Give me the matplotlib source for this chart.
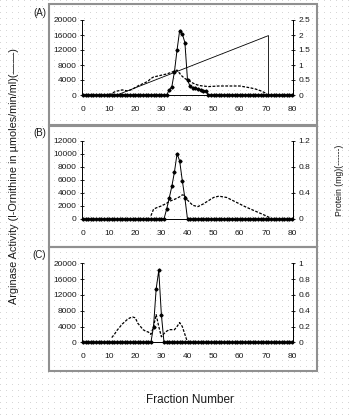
import numpy as np
import matplotlib
matplotlib.use("Agg")
import matplotlib.pyplot as plt
from matplotlib.patches import Rectangle
from matplotlib.ticker import FormatStrFormatter

plt.rcParams['font.family'] = ['Liberation Sans', 'DejaVu Sans']

# ---------------- data ----------------
fractions = np.arange(0, 81)
x_ticks = [0, 10, 20, 30, 40, 50, 60, 70, 80]

# Panel A
act_A_start = 33
act_A_peak = [1300, 2200, 6200, 12000, 17200, 16300, 14000, 4000, 2300,
              2000, 1800, 1600, 1400, 1200, 1100]
prot_A_frac = [10, 11, 12, 13, 14, 15, 16, 17, 18, 19, 20, 21, 22, 23, 24, 25,
               26, 27, 28, 29, 30, 31, 32, 33, 34, 35, 36, 37, 38, 39, 40, 41,
               42, 43, 44, 45, 46, 47, 48, 50, 52, 54, 56, 58, 60, 62, 64, 66,
               68, 70]
prot_A = [0, 0.05, 0.1, 0.13, 0.15, 0.17, 0.15, 0.14, 0.16, 0.2,
          0.25, 0.3, 0.34, 0.38, 0.42, 0.47, 0.55, 0.6, 0.62, 0.64,
          0.66, 0.68, 0.7, 0.73, 0.76, 0.8, 0.83, 0.72, 0.62, 0.55,
          0.5, 0.45, 0.4, 0.36, 0.33, 0.31, 0.3, 0.29, 0.28,
          0.29, 0.3, 0.3, 0.3, 0.3, 0.3, 0.27, 0.24, 0.2, 0.14, 0.06]
grad_A_frac = [13, 71, 71]
grad_A = [0, 1.98, 0]
left_A_ticks = [0, 4000, 8000, 12000, 16000, 20000]
right_A_ticks = [0, 0.5, 1, 1.5, 2, 2.5]

# Panel B
act_B_start = 32
act_B_peak = [1500, 3200, 5000, 7200, 10000, 8900, 5900, 3200]
prot_B_frac = [26, 27, 28, 30, 32, 33, 35, 37, 38, 39, 40, 42, 44, 46, 48, 50,
               52, 55, 58, 62, 66, 70, 72]
prot_B = [0.05, 0.15, 0.17, 0.2, 0.24, 0.27, 0.3, 0.34, 0.37, 0.36, 0.29, 0.21,
          0.19, 0.23, 0.28, 0.33, 0.35, 0.33, 0.27, 0.19, 0.12, 0.05, 0.01]
left_B_ticks = [0, 2000, 4000, 6000, 8000, 10000, 12000]
right_B_ticks = [0, 0.4, 0.8, 1.2]

# Panel C
act_C_start = 27
act_C_peak = [4000, 13500, 18200, 7000]
prot_C_frac = [11, 12, 13, 14, 15, 16, 17, 18, 19, 20, 21, 22, 23, 24, 25, 26,
               27, 28, 29, 30, 31, 32, 33, 34, 35, 36, 37, 38, 39, 40]
prot_C = [0.06, 0.1, 0.15, 0.19, 0.23, 0.26, 0.29, 0.31, 0.32, 0.31, 0.24, 0.2,
          0.16, 0.14, 0.13, 0.1, 0.2, 0.35, 0.2, 0.07, 0.11, 0.14, 0.16, 0.16,
          0.16, 0.2, 0.25, 0.2, 0.1, 0.0]
left_C_ticks = [0, 4000, 8000, 12000, 16000, 20000]
right_C_ticks = [0, 0.2, 0.4, 0.6, 0.8, 1]


def full_activity(start, peak):
    a = np.zeros(len(fractions))
    a[start:start + len(peak)] = peak
    return a


# ---------------- figure ----------------
W, H = 354, 417
fig = plt.figure(figsize=(W / 100, H / 100), dpi=100)

# dotted scan-like background
bg = np.ones((H, W, 3))
bg[::6, ::6] = 0.84
fig.figimage(bg, xo=0, yo=0, zorder=0)

TXT = '#1a1a1a'


def px_rect(x0, y0, x1, y1):
    return [x0 / W, 1 - y1 / H, (x1 - x0) / W, (y1 - y0) / H]


panels = [
    dict(ax_px=(81.7, 20.0, 293.3, 95.0), box=(49.5, 4, 316.5, 125.5), lab="(A)", lab_y=13,
         act=full_activity(act_A_start, act_A_peak), ymax=20000, lticks=left_A_ticks,
         pf=prot_A_frac, pv=prot_A, rmax=2.5, rticks=right_A_ticks, grad=True),
    dict(ax_px=(81.7, 140.7, 293.3, 219.0), box=(49.5, 125.5, 316.5, 247), lab="(B)", lab_y=133.5,
         act=full_activity(act_B_start, act_B_peak), ymax=12000, lticks=left_B_ticks,
         pf=prot_B_frac, pv=prot_B, rmax=1.2, rticks=right_B_ticks, grad=False),
    dict(ax_px=(81.7, 263.3, 293.3, 342.3), box=(49.5, 247, 316.5, 371), lab="(C)", lab_y=255,
         act=full_activity(act_C_start, act_C_peak), ymax=20000, lticks=left_C_ticks,
         pf=prot_C_frac, pv=prot_C, rmax=1.0, rticks=right_C_ticks, grad=False),
]

for p in panels:
    bx0, by0, bx1, by1 = p['box']
    fig.add_artist(Rectangle((bx0 / W, 1 - by1 / H), (bx1 - bx0) / W, (by1 - by0) / H,
                             transform=fig.transFigure, fill=False,
                             edgecolor='#909090', linewidth=1.5, zorder=1))
    fig.text(39.5 / W, 1 - p['lab_y'] / H, p['lab'], fontsize=7, ha='center', va='center',
             color=TXT)

    ax = fig.add_axes(px_rect(*p['ax_px']))
    ax.set_facecolor('none')
    ax.set_zorder(3)
    ax.set_xlim(-0.5, 80.5)
    ax.set_ylim(0, p['ymax'])
    ax.set_xticks(x_ticks)
    ax.set_yticks(p['lticks'])
    ax.spines['top'].set_visible(False)
    for s in ['left', 'right', 'bottom']:
        ax.spines[s].set_linewidth(0.7)
    ax.tick_params(axis='x', length=0, pad=8, labelsize=6, labelcolor=TXT)
    ax.tick_params(axis='y', direction='inout', length=3, width=0.6, pad=2, labelsize=6,
                   labelcolor=TXT)

    ax2 = ax.twinx()
    ax2.set_ylim(0, p['rmax'])
    ax2.set_yticks(p['rticks'])
    ax2.yaxis.set_major_formatter(FormatStrFormatter('%g'))
    ax2.spines['top'].set_visible(False)
    ax2.spines['left'].set_visible(False)
    ax2.spines['bottom'].set_visible(False)
    ax2.spines['right'].set_linewidth(0.7)
    ax2.tick_params(axis='y', direction='inout', length=3, width=0.6, pad=2, labelsize=6,
                    labelcolor=TXT)

    ax2.plot(p['pf'], p['pv'], color='black', linewidth=0.9,
             linestyle=(0, (2.2, 1.2)), clip_on=False)
    if p['grad']:
        ax2.plot(grad_A_frac, grad_A, color='black', linewidth=0.6)
    ax2.plot(fractions, p['act'] / p['ymax'] * p['rmax'], color='black', linewidth=0.7,
             marker='D', markersize=1.6, clip_on=False)

fig.text(14 / W, 1 - 176 / H, "Arginase Activity (l-Ornithine in \u00b5moles/min/ml)(\u2014\u2014)",
         rotation=90, fontsize=7.8, ha='center', va='center', color=TXT)
fig.text(339 / W, 1 - 180 / H, "Protein (mg)(------)", rotation=90, fontsize=6.3,
         ha='center', va='center', color=TXT)
fig.text(190 / W, 1 - 400 / H, "Fraction Number", fontsize=8.5, ha='center', va='center',
         color=TXT)

fig.savefig('out.png', dpi=100)
